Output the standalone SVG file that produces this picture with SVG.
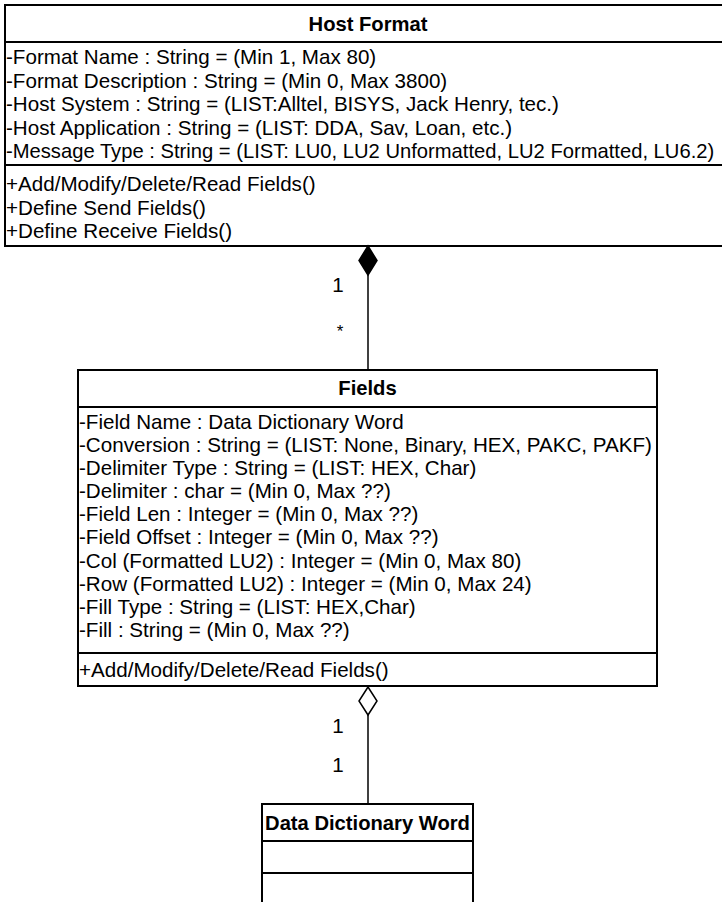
<svg xmlns="http://www.w3.org/2000/svg" width="722" height="902" viewBox="0 0 722 902">
<style>
.box{fill:#fff;stroke:#000;stroke-width:2}
.sep{stroke:#000;stroke-width:2}
.t{font-family:"Liberation Sans",Arial,sans-serif;font-size:20.6px;fill:#000}
.b{font-family:"Liberation Sans",Arial,sans-serif;font-size:20.2px;font-weight:bold;fill:#000;text-anchor:middle}
.ln{stroke:#000;stroke-width:1.5;fill:none}
.sm{font-size:20.2px}
.ast{font-size:17px}
</style>
<rect width="722" height="902" fill="#fff"/>
<g id="host-format">
<rect class="box" x="5" y="5" width="726" height="241"/>
<line class="sep" x1="5" y1="42" x2="731" y2="42"/>
<line class="sep" x1="5" y1="165" x2="731" y2="165"/>
<text class="b" x="368" y="31">Host Format</text>
<text class="t" x="6" y="64">-Format Name : String = (Min 1, Max 80)</text>
<text class="t" x="6" y="87.5">-Format Description : String = (Min 0, Max 3800)</text>
<text class="t" x="6" y="111">-Host System : String = (LIST:Alltel, BISYS, Jack Henry, tec.)</text>
<text class="t" x="6" y="134.5">-Host Application : String = (LIST: DDA, Sav, Loan, etc.)</text>
<text class="t sm" x="6" y="158">-Message Type : String = (LIST: LU0, LU2 Unformatted, LU2 Formatted, LU6.2)</text>
<text class="t" x="6" y="191">+Add/Modify/Delete/Read Fields()</text>
<text class="t" x="6" y="214.5">+Define Send Fields()</text>
<text class="t" x="6" y="238">+Define Receive Fields()</text>
</g>
<g id="fields">
<rect class="box" x="78" y="370" width="579" height="316"/>
<line class="sep" x1="78" y1="407" x2="657" y2="407"/>
<line class="sep" x1="78" y1="653" x2="657" y2="653"/>
<text class="b" x="367.5" y="395">Fields</text>
<text class="t" x="79" y="429">-Field Name : Data Dictionary Word</text>
<text class="t" x="79" y="452">-Conversion : String = (LIST: None, Binary, HEX, PAKC, PAKF)</text>
<text class="t" x="79" y="475">-Delimiter Type : String = (LIST: HEX, Char)</text>
<text class="t" x="79" y="498">-Delimiter : char = (Min 0, Max ??)</text>
<text class="t" x="79" y="521">-Field Len : Integer = (Min 0, Max ??)</text>
<text class="t" x="79" y="544">-Field Offset : Integer = (Min 0, Max ??)</text>
<text class="t" x="79" y="568">-Col (Formatted LU2) : Integer = (Min 0, Max 80)</text>
<text class="t" x="79" y="591">-Row (Formatted LU2) : Integer = (Min 0, Max 24)</text>
<text class="t" x="79" y="614">-Fill Type : String = (LIST: HEX,Char)</text>
<text class="t" x="79" y="637">-Fill : String = (Min 0, Max ??)</text>
<text class="t" x="79" y="677">+Add/Modify/Delete/Read Fields()</text>
</g>
<g id="data-dictionary-word">
<rect class="box" x="262" y="804" width="211" height="110"/>
<line class="sep" x1="262" y1="841" x2="473" y2="841"/>
<line class="sep" x1="262" y1="873" x2="473" y2="873"/>
<text class="b" x="367.5" y="830">Data Dictionary Word</text>
</g>
<g id="connectors">
<line class="ln" x1="368" y1="275" x2="368" y2="370"/>
<polygon points="368,246 377,260.5 368,275 359,260.5" fill="#000" stroke="#000" stroke-width="1.5"/>
<text class="t" x="338" y="292" text-anchor="middle">1</text>
<text class="t ast" x="340" y="337" text-anchor="middle">*</text>
<line class="ln" x1="368" y1="715" x2="368" y2="804"/>
<polygon points="368,687 377,701 368,715 359,701" fill="#fff" stroke="#000" stroke-width="1.5"/>
<text class="t" x="338" y="733" text-anchor="middle">1</text>
<text class="t" x="338" y="772" text-anchor="middle">1</text>
</g>
</svg>
